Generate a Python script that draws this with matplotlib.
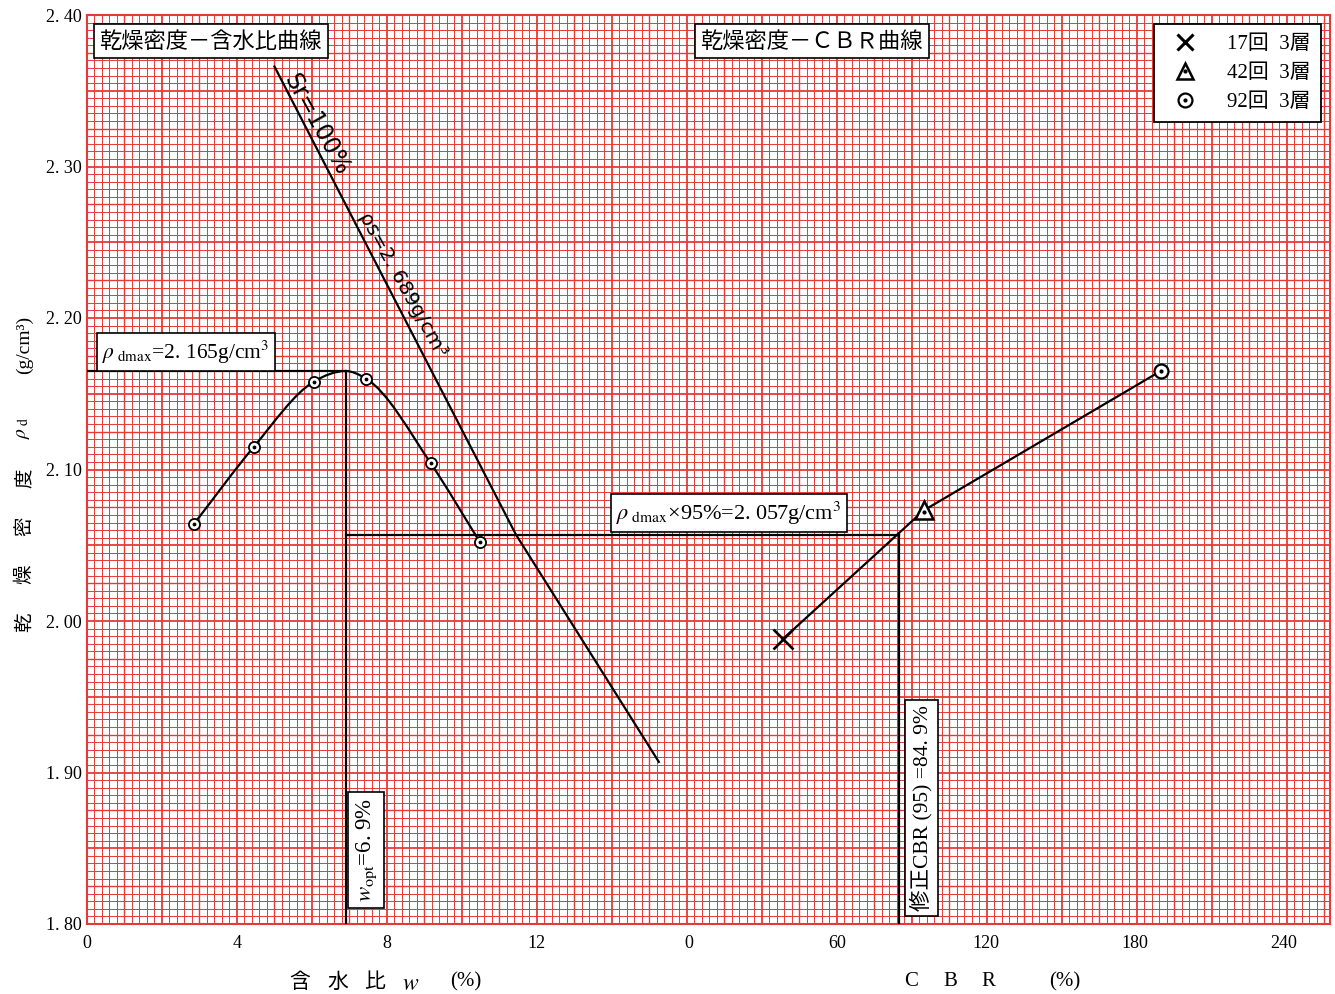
import numpy as np
import matplotlib.pyplot as plt
from matplotlib.path import Path
from matplotlib.patches import PathPatch
from matplotlib.lines import Line2D

plt.rcParams['font.family'] = ['Liberation Serif', 'Noto Sans CJK JP', 'DejaVu Sans']
plt.rcParams['mathtext.fontset'] = 'stix'

# dry density - water content test points (92 blows)
w_pts = [2.85, 4.45, 6.05, 7.44, 9.17, 10.48]
rho_pts = [2.064, 2.115, 2.158, 2.160, 2.104, 2.052]
w_opt = 6.9
rho_max = 2.165
rho_95 = 2.057

# zero air voids line Sr=100%
sr_w = [5.0, 11.44, 15.25]
sr_rho = [2.366, 2.057, 1.907]

# dry density - CBR points (17, 42, 92 blows)
cbr_vals = [37.9, 94.8, 190.4]
cbr_rho = [1.988, 2.073, 2.165]
cbr_95 = 84.9

w_ticks = [0, 4, 8, 12]
cbr_ticks = [0, 60, 120, 180, 240]
y_ticks = [1.80, 1.90, 2.00, 2.10, 2.20, 2.30, 2.40]
y_labels = ['1. 80', '1. 90', '2. 00', '2. 10', '2. 20', '2. 30', '2. 40']
legend_labels = ['17回  3層', '42回  3層', '92回  3層']

CBR0 = 16.05     # CBR=0 sits here on the water content scale
CBR_K = 0.0661   # water content units per 1% CBR


def cbr_x(c):
    return CBR0 + np.asarray(c, dtype=float) * CBR_K


def smooth_path(xs, ys, flat=None):
    # cubic hermite through the points, as bezier segments; slope 0 at index "flat"
    x = np.asarray(xs, float)
    y = np.asarray(ys, float)
    h = np.diff(x)
    d = np.diff(y) / h
    m = np.empty_like(x)
    m[0], m[-1] = d[0], d[-1]
    m[1:-1] = (d[:-1] * h[1:] + d[1:] * h[:-1]) / (h[:-1] + h[1:])
    if flat is not None:
        m[flat] = 0.0
    verts = [(x[0], y[0])]
    codes = [Path.MOVETO]
    for i in range(len(x) - 1):
        verts += [(x[i] + h[i] / 3, y[i] + m[i] * h[i] / 3),
                  (x[i + 1] - h[i] / 3, y[i + 1] - m[i + 1] * h[i] / 3),
                  (x[i + 1], y[i + 1])]
        codes += [Path.CURVE4] * 3
    return Path(verts, codes)


fig = plt.figure(figsize=(13.35, 9.94), dpi=100)
ax = fig.add_axes([87 / 1335, 70 / 994, 1243 / 1335, 909 / 994])
XMAX = 33.15
ax.set_xlim(0, XMAX)
ax.set_ylim(1.80, 2.40)

# graph paper
red = '#e63a36'
gx = np.arange(0, XMAX + 0.01, 0.2)
gy = np.arange(1.80, 2.4001, 0.005)
for i, x in enumerate(gx):
    lw = 1.3 if i % 10 == 0 else (1.0 if i % 5 == 0 else 0.7)
    ax.axvline(x, color=red, lw=lw, zorder=0)
for i, y in enumerate(gy):
    lw = 1.3 if i % 10 == 0 else (1.0 if i % 5 == 0 else 0.7)
    ax.axhline(y, color=red, lw=lw, zorder=0)
for s in ax.spines.values():
    s.set_color(red)
    s.set_linewidth(1.5)

# ticks
xt = list(w_ticks) + list(cbr_x(cbr_ticks))
xl = [str(t) for t in w_ticks] + [str(t) for t in cbr_ticks]
ax.set_xticks(xt)
ax.set_xticklabels(xl, fontsize=13)
ax.set_yticks(y_ticks)
ax.set_yticklabels(y_labels, fontsize=13)
ax.tick_params(length=0, pad=8)
ax.tick_params(axis='y', pad=4)

lk = dict(color='black', lw=1.6, zorder=3)

# compaction curve
ax.add_patch(PathPatch(smooth_path(w_pts[:3] + [w_opt] + w_pts[3:],
                                   rho_pts[:3] + [rho_max] + rho_pts[3:], flat=3),
                       fill=False, ec='black', lw=1.6, zorder=3))
ax.plot(w_pts, rho_pts, 'o', ms=8, mfc='white', mec='black', mew=1.3, zorder=4)
ax.plot(w_pts, rho_pts, '.', ms=3.5, color='black', zorder=5)

# Sr = 100% line
ax.plot(sr_w, sr_rho, **lk)

# guide lines
ax.plot([0, w_opt], [rho_max, rho_max], **lk)
ax.plot([w_opt, w_opt], [rho_max, 1.80], **lk)
ax.plot([w_opt, cbr_x(cbr_95)], [rho_95, rho_95], **lk)
ax.plot([cbr_x(cbr_95), cbr_x(cbr_95)], [rho_95, 1.80], **lk)

# CBR curve
cx = cbr_x(cbr_vals)
ax.plot(cx, cbr_rho, **lk)
ax.plot(cx[0], cbr_rho[0], 'x', ms=14, mew=1.9, color='black', zorder=5)
ax.plot(cx[1], cbr_rho[1], '^', ms=13, mfc='white', mec='black', mew=1.8, zorder=5)
ax.plot(cx[1], cbr_rho[1] - 0.001, '.', ms=4, color='black', zorder=6)
ax.plot(cx[2], cbr_rho[2], 'o', ms=10, mfc='white', mec='black', mew=1.6, zorder=5)
ax.plot(cx[2], cbr_rho[2], '.', ms=4, color='black', zorder=6)

box = dict(boxstyle='square,pad=0.25', fc='white', ec='black', lw=1.2)
ax.text(3.3, 2.3828, '乾燥密度－含水比曲線', fontsize=16, ha='center', va='center',
        family=['Noto Sans CJK JP'], bbox=box, zorder=7)
ax.text(19.33, 2.3828, '乾燥密度－ＣＢＲ曲線', fontsize=16, ha='center', va='center',
        family=['Noto Sans CJK JP'], bbox=box, zorder=7)
ax.text(2.64, 2.1776, r'$\rho_{\ \mathrm{dmax}}$=2. 165g/cm$^3$', fontsize=15.5,
        ha='center', va='center', bbox=dict(box, pad=0.12), zorder=7)
ax.text(17.12, 2.0712, r'$\rho_{\ \mathrm{dmax}}$×95%=2. 057g/cm$^3$', fontsize=16,
        ha='center', va='center', bbox=dict(box, pad=0.08), zorder=7)
ax.text(7.45, 1.849, r'$w_{\mathrm{opt}}$=6. 9%', fontsize=16.5, rotation=90,
        ha='center', va='center', bbox=dict(box, pad=0.08), zorder=7)
ax.text(22.25, 1.8766, '修正CBR (95) =84. 9%', fontsize=15.5, rotation=90,
        ha='center', va='center', family=['Liberation Sans Narrow', 'Liberation Serif', 'Noto Sans CJK JP'],
        bbox=dict(box, pad=0.1), zorder=7)
# labels sitting on the Sr line (anchor on the line, text to its right)
ax.text(5.95, 2.3254, 'Sr=100%', fontsize=17, rotation=-61.1, ha='center', va='baseline',
        family=['DejaVu Sans'], rotation_mode='anchor', zorder=6)
ax.text(8.29, 2.2205, 'ρs=2. 689g/cm³', fontsize=14.5, rotation=-61.1, ha='center',
        va='baseline', family=['DejaVu Sans'], rotation_mode='anchor', zorder=6)

# legend
h1 = Line2D([], [], marker='x', ls='none', color='black', ms=12, mew=2.2)
h2 = (Line2D([], [], marker='^', ls='none', mfc='white', mec='black', ms=12, mew=1.8),
      Line2D([], [], marker='.', ls='none', color='black', ms=4))
h3 = (Line2D([], [], marker='o', ls='none', mfc='white', mec='black', ms=10, mew=1.6),
      Line2D([], [], marker='.', ls='none', color='black', ms=4))
leg = ax.legend([h1, h2, h3], legend_labels, loc='upper right',
                bbox_to_anchor=(0.9928, 0.990), borderaxespad=0, fancybox=False,
                framealpha=1, edgecolor='black', prop={'size': 15}, handletextpad=1.0,
                labelspacing=0.45, borderpad=0.5)
leg.get_frame().set_linewidth(1.3)
leg.set_zorder(8)

# axis titles
for ch, yp in zip(['乾', '燥', '密', '度'], [622, 574, 526, 478]):
    fig.text(24 / 1335, 1 - yp / 994, ch, rotation=90, fontsize=14, ha='center', va='center',
             family=['Noto Sans CJK JP'])
fig.text(24 / 1335, 1 - 428 / 994, r'$\rho_{\ \mathrm{d}}$', rotation=90, fontsize=14,
         ha='center', va='center')
fig.text(24 / 1335, 1 - 345 / 994, '(g/cm³)', rotation=90, fontsize=14, ha='center',
         va='center')
for s, xp in zip(['含', '水', '比'], [300, 338, 375]):
    fig.text(xp / 1335, 1 - 982 / 994, s, fontsize=15, ha='center', va='center',
             family=['Noto Sans CJK JP'])
fig.text(411 / 1335, 1 - 984 / 994, r'$w$', fontsize=17, ha='center', va='center')
fig.text(466 / 1335, 1 - 982 / 994, '(%)', fontsize=15, ha='center', va='center')
for s, xp in zip(['C', 'B', 'R', '(%)'], [911, 950, 988, 1065]):
    fig.text(xp / 1335, 1 - 982 / 994, s, fontsize=15, ha='center', va='center')

fig.savefig('out.png', dpi=100)
